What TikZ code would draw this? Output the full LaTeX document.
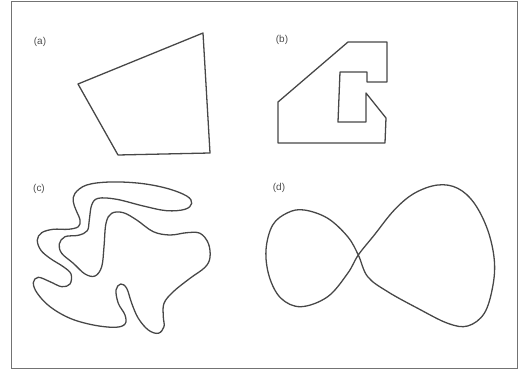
\documentclass[tikz,border=0pt]{standalone}
\usepackage{fontspec}
\setmainfont{Liberation Sans}
\tikzset{
  outline/.style={draw=black!72, line width=1.1pt, line join=round},
  framebox/.style={draw=black!55, line width=0.8pt},
  partlabel/.style={font=\fontsize{8.5}{10}\selectfont, text=black!70, inner sep=0pt}
}

\begin{document}
\begin{tikzpicture}[x=0.03cm, y=-0.03cm]
  \useasboundingbox (0,0) rectangle (523,372);
  \draw[framebox] (11,1) rectangle (517,368);
  % labels
  \node[partlabel] (la) at (40,42) {(a)};
  \node[partlabel] (lb) at (282,40) {(b)};
  \node[partlabel] (lc) at (39,189) {(c)};
  \node[partlabel] (ld) at (279,188) {(d)};
  % (a) convex quadrilateral
  \draw[outline] (78,84) -- (203,33) -- (210,153) -- (118,155) -- cycle;
  % (b) polygon with notch
  \draw[outline] (278,102) -- (348,42) -- (387,42) -- (387,82) -- (367,82)
    -- (367,72) -- (340,72) -- (338,122) -- (366,122) -- (366,93)
    -- (386,118) -- (385,143) -- (278,143) -- cycle;
  % (c) wiggly blob
  \draw[outline] plot[smooth cycle, tension=0.6] coordinates {
    (75,193.3) (86.7,185) (110,182) (140,183.3) (166.7,188.3) (186.7,196)
    (191.7,203.3) (185,209.3) (166.7,210.7) (143.3,206) (116.7,199.3)
    (98.3,198.3) (91.7,205) (89.3,220) (87.3,230.7) (78.3,235.3) (65,236.7)
    (59.3,244) (61.7,253.3) (73.3,263.3) (85,274) (95,276) (101.7,266.7)
    (104,246.7) (106,223.3) (111.7,213.3) (123.3,212.7) (136.7,220)
    (153.3,231.7) (170,235) (186.7,232.7) (200,233.3) (208.3,243.3)
    (210,257.3) (205,267.3) (190,278.3) (173.3,291.7) (164,303.3)
    (163.3,316.7) (164,326.7) (158.3,333.3) (148.3,330) (138.3,318.3)
    (131.7,303.3) (126.7,288.3) (120.7,284) (116,290) (118.3,303.3)
    (125,315) (125,324) (115,327.3) (93.3,325) (70,318.3) (50,306.7)
    (37.3,293.3) (33.3,282.7) (38.3,277.3) (50,281.7) (61.7,286.7)
    (70,284) (71,274) (63.3,266.7) (50,258.3) (40.7,250) (37.3,240)
    (41.7,232.7) (53.3,229.3) (68.3,229.3) (78.3,226.7) (80,220)
    (76,210) (73.3,201.7)};
  % (d) figure eight
  \draw[outline] plot[smooth cycle, tension=0.6] coordinates {
    (347.7,236.7) (358.3,255) (367.7,276.7) (387.7,291.7) (417.7,308.3)
    (447.7,323.3) (467.7,326) (484.3,313.3) (492.7,286.7) (494.3,260)
    (487.7,230) (474.3,203.3) (457.7,188.3) (437.7,185) (414.3,193.3)
    (394.3,210) (374.3,235) (358.3,255) (347.7,273.3) (327.7,296.7)
    (301,306.7) (281,298.3) (269.3,276.7) (266,250) (272.7,225)
    (287.7,212.7) (304.3,210) (327.7,218.3)};
\end{tikzpicture}
\end{document}
